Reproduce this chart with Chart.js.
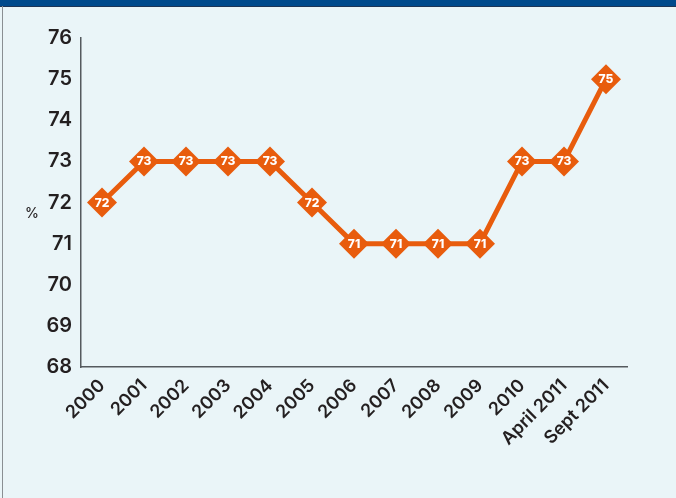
<!DOCTYPE html>
<html>
<head>
<meta charset="utf-8">
<script src="https://cdn.jsdelivr.net/npm/chart.js@4/dist/chart.umd.min.js"></script>
<style>
  html, body { margin: 0; padding: 0; }
  body { width: 676px; height: 498px; background: #eaf5f8; position: relative; overflow: hidden; }
  #topbar { position: absolute; left: 0; top: 0; width: 676px; height: 6px; background: #004a8c; border-bottom: 1px solid #1d3556; }
  #leftrule { position: absolute; left: 2px; top: 6px; width: 1px; height: 492px; background: #8a8f93; }
  #wrap { position: absolute; left: 0; top: 0; width: 676px; height: 498px; }
</style>
</head>
<body>
<div id="topbar"></div>
<div id="leftrule"></div>
<div id="wrap"><canvas id="chart"></canvas></div>
<script>
const categories = ['2000', '2001', '2002', '2003', '2004', '2005', '2006', '2007', '2008', '2009', '2010', 'April 2011', 'Sept 2011'];
const shareValues = [72, 73, 73, 73, 73, 72, 71, 71, 71, 71, 73, 73, 75];
const yTicks = [68, 69, 70, 71, 72, 73, 74, 75, 76];
const unitLabel = '%';

const orange = '#e85c0d';
const inkColor = '#231f20';
const fontFamily = 'Inter, "DejaVu Sans", sans-serif';

// Writes each point's value inside its diamond marker
const valueLabels = {
  id: 'valueLabels',
  afterDatasetsDraw(chart) {
    const ctx = chart.ctx;
    const meta = chart.getDatasetMeta(0);
    ctx.save();
    ctx.fillStyle = '#ffffff';
    ctx.font = '800 12px ' + fontFamily;
    ctx.textAlign = 'center';
    ctx.textBaseline = 'middle';
    meta.data.forEach((pt, i) => {
      ctx.fillText(String(shareValues[i]), pt.x, pt.y + 0.5);
    });
    ctx.restore();
  }
};

// Unit marker to the left of the value axis
const unitMarker = {
  id: 'unitMarker',
  afterDraw(chart) {
    const ctx = chart.ctx;
    const y = chart.scales.y;
    ctx.save();
    ctx.fillStyle = inkColor;
    ctx.font = '500 14px ' + fontFamily;
    ctx.textAlign = 'center';
    ctx.textBaseline = 'middle';
    ctx.fillText(unitLabel, 32, y.getPixelForValue(72) + 11);
    ctx.restore();
  }
};

new Chart(document.getElementById('chart'), {
  type: 'line',
  data: {
    labels: categories,
    datasets: [{
      data: shareValues,
      borderColor: orange,
      borderWidth: 5,
      backgroundColor: orange,
      pointStyle: 'rectRot',
      pointRadius: 15,
      pointHoverRadius: 15,
      pointBorderWidth: 0,
      pointBackgroundColor: orange,
      tension: 0,
      fill: false
    }]
  },
  options: {
    responsive: true,
    maintainAspectRatio: false,
    animation: false,
    layout: { padding: { left: 0, top: 38, right: 49, bottom: 0 } },
    plugins: {
      legend: { display: false },
      tooltip: { enabled: false },
      title: { display: false }
    },
    scales: {
      x: {
        offset: true,
        grid: { display: false, drawTicks: false },
        border: { display: true, color: '#555a5e', width: 1.5 },
        ticks: {
          color: inkColor,
          font: { family: fontFamily, size: 18, weight: '600' },
          minRotation: 45,
          maxRotation: 45,
          autoSkip: false,
          padding: 8
        },
        afterFit(scale) { scale.height = 131; }
      },
      y: {
        min: 68,
        max: 76,
        afterBuildTicks(scale) { scale.ticks = yTicks.map(v => ({ value: v })); },
        grid: { display: false, drawTicks: false },
        border: { display: true, color: '#555a5e', width: 1.5 },
        ticks: {
          color: inkColor,
          font: { family: fontFamily, size: 20, weight: '600' },
          padding: 9
        },
        afterFit(scale) { scale.width = 81; }
      }
    }
  },
  plugins: [valueLabels, unitMarker]
});
</script>
</body>
</html>
